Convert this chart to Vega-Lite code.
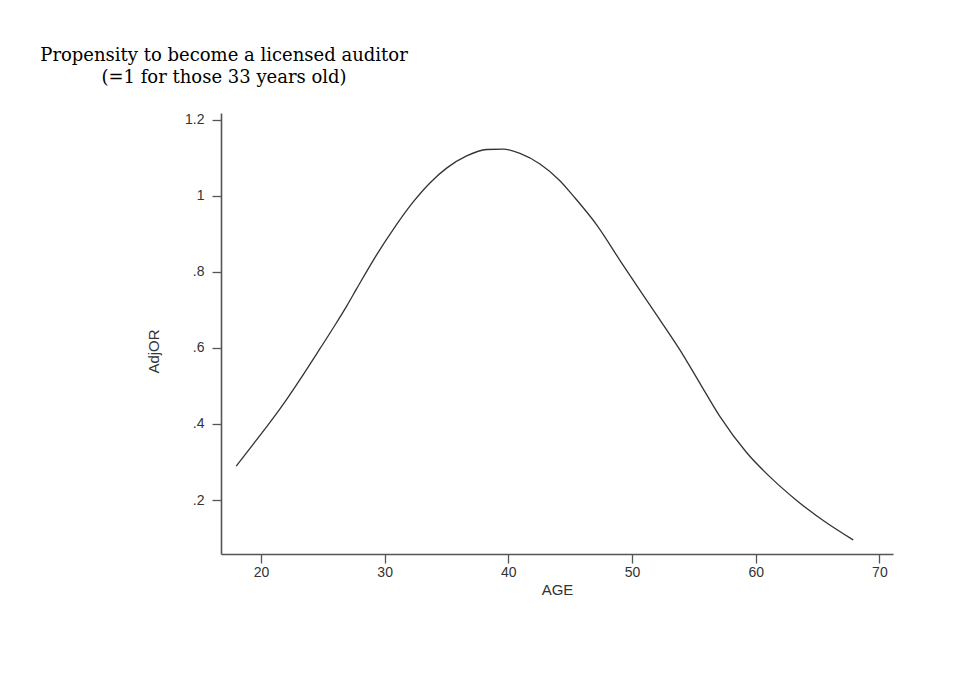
{
  "$schema": "https://vega.github.io/schema/vega-lite/v6.json",
  "autosize": "none",
  "width": 672,
  "height": 441,
  "padding": {"left": 221, "top": 113, "right": 87, "bottom": 121},
  "background": "white",
  "title": {
    "text": ["Propensity to become a licensed auditor", "(=1 for those 33 years old)"],
    "frame": "group",
    "anchor": "start",
    "align": "center",
    "dx": 3,
    "offset": 26,
    "font": "DejaVu Serif",
    "fontSize": 18,
    "fontWeight": "normal",
    "lineHeight": 22,
    "color": "#000000"
  },
  "data": {
    "values": [
      {"AGE": 18.0, "AdjOR": 0.289},
      {"AGE": 19.38, "AdjOR": 0.347},
      {"AGE": 20.73, "AdjOR": 0.404},
      {"AGE": 22.08, "AdjOR": 0.465},
      {"AGE": 23.42, "AdjOR": 0.530},
      {"AGE": 24.77, "AdjOR": 0.598},
      {"AGE": 26.12, "AdjOR": 0.667},
      {"AGE": 26.93, "AdjOR": 0.710},
      {"AGE": 27.74, "AdjOR": 0.756},
      {"AGE": 29.35, "AdjOR": 0.845},
      {"AGE": 30.70, "AdjOR": 0.912},
      {"AGE": 32.31, "AdjOR": 0.984},
      {"AGE": 33.66, "AdjOR": 1.034},
      {"AGE": 35.01, "AdjOR": 1.073},
      {"AGE": 36.63, "AdjOR": 1.105},
      {"AGE": 38.25, "AdjOR": 1.122},
      {"AGE": 39.59, "AdjOR": 1.123},
      {"AGE": 40.94, "AdjOR": 1.112},
      {"AGE": 42.56, "AdjOR": 1.084},
      {"AGE": 44.17, "AdjOR": 1.040},
      {"AGE": 45.25, "AdjOR": 1.000},
      {"AGE": 47.14, "AdjOR": 0.924},
      {"AGE": 49.29, "AdjOR": 0.817},
      {"AGE": 51.71, "AdjOR": 0.700},
      {"AGE": 53.87, "AdjOR": 0.595},
      {"AGE": 55.49, "AdjOR": 0.507},
      {"AGE": 57.10, "AdjOR": 0.420},
      {"AGE": 59.26, "AdjOR": 0.325},
      {"AGE": 61.41, "AdjOR": 0.253},
      {"AGE": 63.31, "AdjOR": 0.199},
      {"AGE": 65.46, "AdjOR": 0.146},
      {"AGE": 67.88, "AdjOR": 0.095}
    ]
  },
  "mark": {"type": "line", "color": "#333333", "strokeWidth": 1.3, "interpolate": "monotone"},
  "encoding": {
    "x": {
      "field": "AGE",
      "type": "quantitative",
      "scale": {"domain": [16.77, 71.1], "nice": false, "zero": false},
      "axis": {
        "title": "AGE",
        "values": [20, 30, 40, 50, 60, 70],
        "grid": false,
        "tickSize": 9,
        "labelPadding": 2,
        "titlePadding": 3,
        "domainColor": "#555555",
        "domainWidth": 1.6,
        "tickColor": "#555555",
        "tickWidth": 1.3,
        "labelFont": "Liberation Sans",
        "labelFontSize": 14,
        "labelColor": "#333333",
        "titleFont": "Liberation Sans",
        "titleFontSize": 15,
        "titleFontWeight": "normal",
        "titleColor": "#333333"
      }
    },
    "y": {
      "field": "AdjOR",
      "type": "quantitative",
      "scale": {"domain": [0.058, 1.218], "nice": false, "zero": false},
      "axis": {
        "title": "AdjOR",
        "values": [0.2, 0.4, 0.6, 0.8, 1, 1.2],
        "labelExpr": "datum.value < 1 ? replace(format(datum.value, '.1f'), '0.', '.') : format(datum.value, '~g')",
        "grid": false,
        "tickSize": 9,
        "labelPadding": 8,
        "domainColor": "#555555",
        "domainWidth": 1.6,
        "tickColor": "#555555",
        "tickWidth": 1.3,
        "labelFont": "Liberation Sans",
        "labelFontSize": 14,
        "labelColor": "#333333",
        "titleFont": "Liberation Sans",
        "titleFontSize": 15,
        "titleFontWeight": "normal",
        "titleColor": "#333333",
        "titleX": -60,
        "titleY": 238
      }
    }
  },
  "config": {"view": {"stroke": null}}
}
